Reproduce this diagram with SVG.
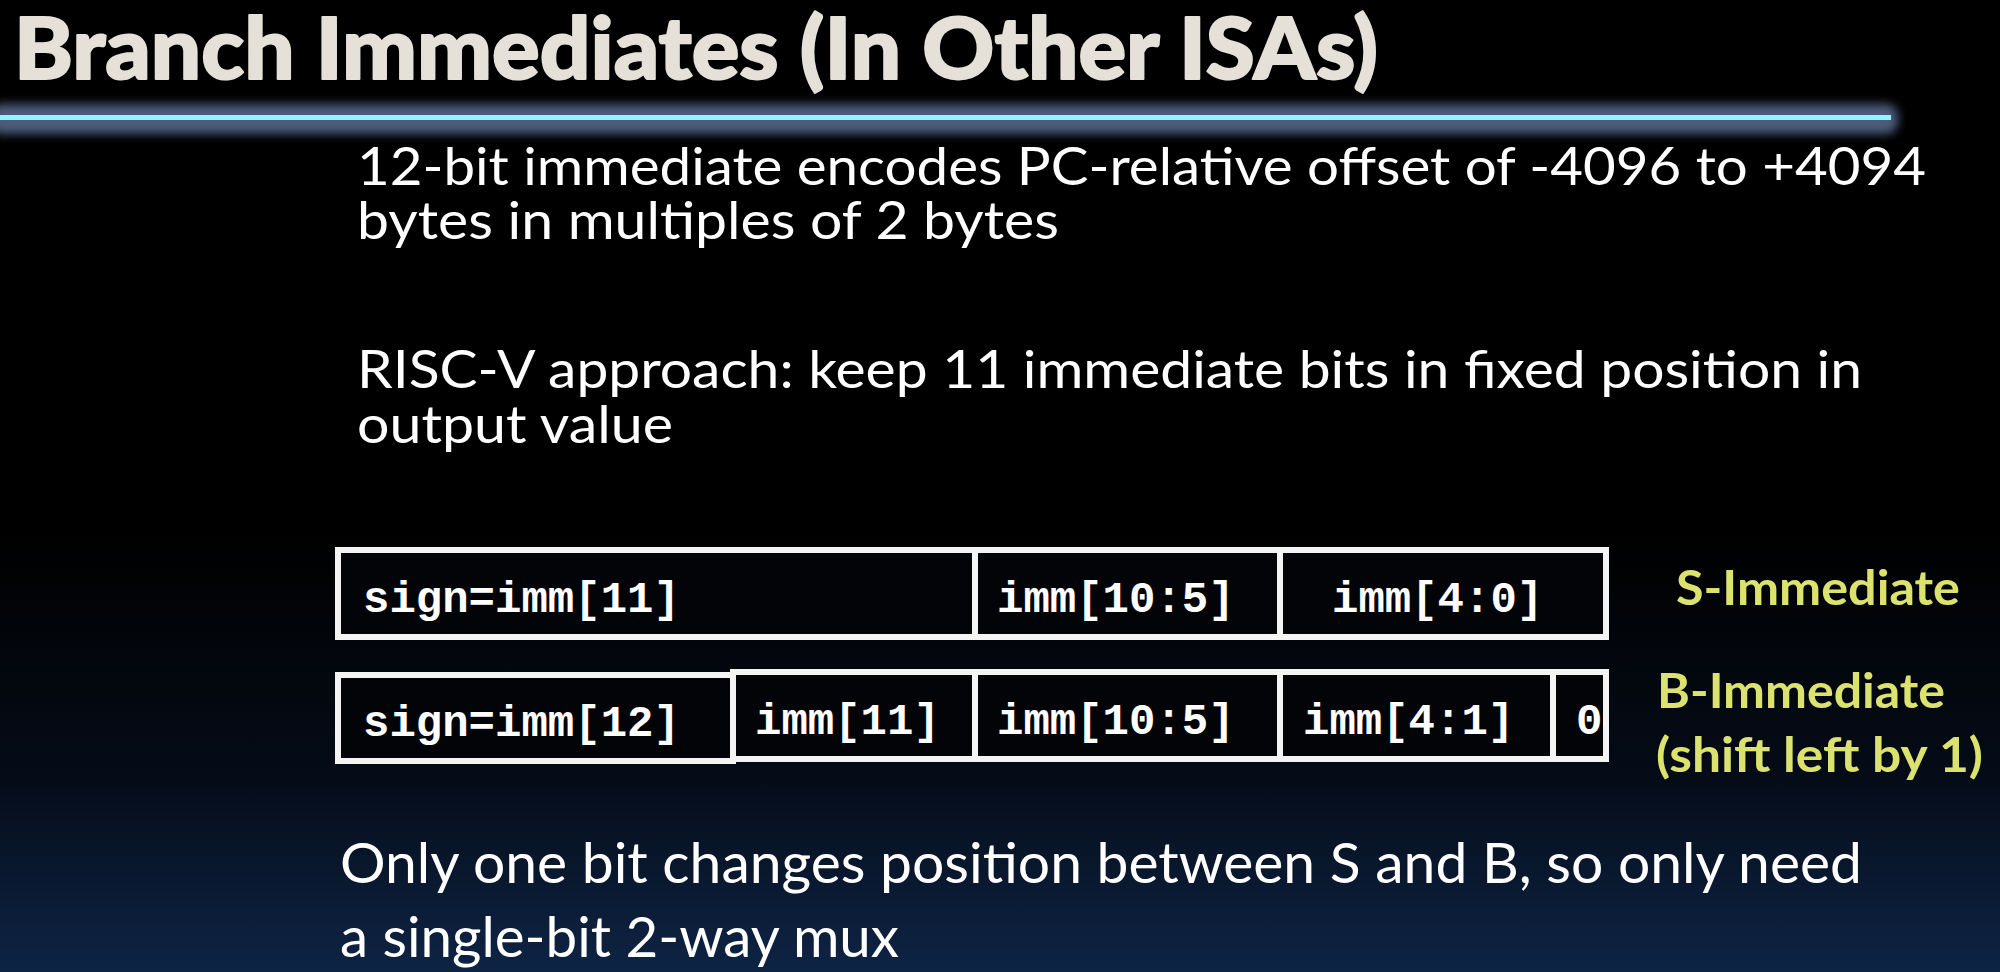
<svg xmlns="http://www.w3.org/2000/svg" width="2000" height="972" viewBox="0 0 2000 972">
  <defs>
    <linearGradient id="bg" x1="0" y1="0" x2="0" y2="1">
      <stop offset="0" stop-color="#000000"/>
      <stop offset="0.55" stop-color="#000000"/>
      <stop offset="0.8" stop-color="#050c18"/>
      <stop offset="1" stop-color="#0e2445"/>
    </linearGradient>
    <filter id="glow" x="-5%" y="-100%" width="110%" height="300%">
      <feGaussianBlur stdDeviation="5"/>
    </filter>
    <style>
      .title { font-family: "Lato", "Liberation Sans", sans-serif; font-weight: 900; font-size: 86px; fill: #e5e0d8; stroke: #e5e0d8; stroke-width: 2; stroke-linejoin: round; }
      .body { font-family: "Lato", "Open Sans", sans-serif; font-size: 52px; fill: #ffffff; }
      .foot { font-family: "Lato", "Open Sans", sans-serif; font-size: 56px; fill: #ffffff; }
      .lbl { font-family: "Lato", "Open Sans", sans-serif; font-weight: 700; font-size: 47px; fill: #dbe26e; }
      .field { fill: #020408; stroke: #f4f4f4; stroke-width: 6; }
      .mono { font-family: "Liberation Mono", "Courier New", monospace; font-weight: 700; font-size: 44px; fill: #ffffff; }
    </style>
  </defs>

  <rect x="0" y="0" width="2000" height="972" fill="url(#bg)"/>

  <!-- heading and rule -->
  <g id="heading">
    <text class="title" x="14" y="79" textLength="1364" lengthAdjust="spacingAndGlyphs">Branch Immediates (In Other ISAs)</text>
    <rect x="-10" y="104" width="1908" height="30" rx="12" fill="#4b5b7b" filter="url(#glow)"/>
    <rect x="0" y="115" width="1891" height="5" fill="#8ff5fd"/>
  </g>

  <!-- explanatory text -->
  <g id="point-range">
    <text class="body" x="357" y="185" textLength="1569" lengthAdjust="spacingAndGlyphs">12-bit immediate encodes PC-relative offset of -4096 to +4094</text>
    <text class="body" x="357" y="239" textLength="702" lengthAdjust="spacingAndGlyphs">bytes in multiples of 2 bytes</text>
  </g>
  <g id="point-riscv">
    <text class="body" x="357" y="388" textLength="1505" lengthAdjust="spacingAndGlyphs">RISC-V approach: keep 11 immediate bits in fixed position in</text>
    <text class="body" x="357" y="443" textLength="316" lengthAdjust="spacingAndGlyphs">output value</text>
  </g>

  <!-- S-type immediate layout -->
  <g id="s-immediate">
    <rect class="field" x="338" y="550" width="637" height="87"/>
    <rect class="field" x="975" y="550" width="305" height="87"/>
    <rect class="field" x="1280" y="550" width="326" height="87"/>
    <text class="mono" x="363" y="612">sign=imm[11]</text>
    <text class="mono" x="997" y="612">imm[10:5]</text>
    <text class="mono" x="1332" y="612">imm[4:0]</text>
  </g>
  <g id="s-label">
    <text class="lbl" x="1676" y="605" textLength="284" lengthAdjust="spacingAndGlyphs">S-Immediate</text>
  </g>

  <!-- B-type immediate layout -->
  <g id="b-immediate">
    <rect class="field" x="338" y="675" width="395" height="86"/>
    <rect class="field" x="733" y="672" width="242" height="87"/>
    <rect class="field" x="975" y="672" width="305" height="87"/>
    <rect class="field" x="1280" y="672" width="273" height="87"/>
    <rect class="field" x="1553" y="672" width="53" height="87"/>
    <text class="mono" x="363" y="736">sign=imm[12]</text>
    <text class="mono" x="755" y="734">imm[11]</text>
    <text class="mono" x="997" y="734">imm[10:5]</text>
    <text class="mono" x="1303" y="734">imm[4:1]</text>
    <text class="mono" x="1576" y="734">0</text>
  </g>
  <g id="b-label">
    <text class="lbl" x="1657" y="708" textLength="288" lengthAdjust="spacingAndGlyphs">B-Immediate</text>
    <text class="lbl" x="1656" y="772" textLength="327" lengthAdjust="spacingAndGlyphs">(shift left by 1)</text>
  </g>

  <!-- conclusion -->
  <g id="point-mux">
    <text class="foot" x="340" y="883" textLength="1522" lengthAdjust="spacingAndGlyphs">Only one bit changes position between S and B, so only need</text>
    <text class="foot" x="340" y="957" textLength="559" lengthAdjust="spacingAndGlyphs">a single-bit 2-way mux</text>
  </g>

  <g id="connectors"/>
</svg>
